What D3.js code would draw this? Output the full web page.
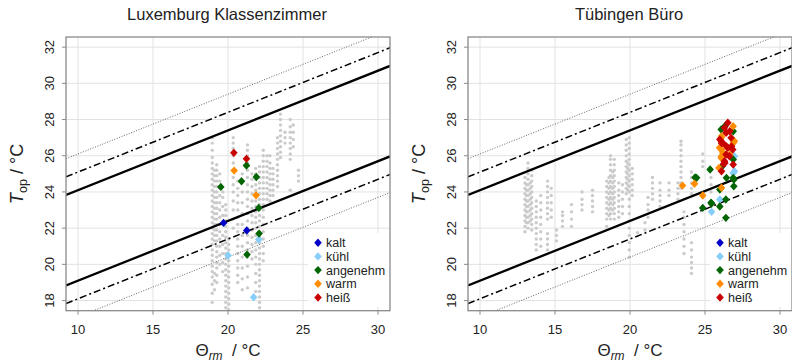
<!DOCTYPE html>
<html>
<head>
<meta charset='utf-8' />
<title>Adaptive comfort</title>
<style>
  html, body { margin: 0; padding: 0; background: #fff; }
  body { font-family: 'Liberation Sans', Arial, sans-serif; }
  svg text { fill: #222; }
</style>
</head>
<body>
<svg id='chart' width='792' height='362'></svg>
<script src='https://cdnjs.cloudflare.com/ajax/libs/d3/7.8.5/d3.min.js'></script>
<script>
// gray points, one column per running-mean temperature: [theta_rm, 'T_op values']
const luxGray = [
  [18.95, '17.9 18.4 18.9 19.3 19.6 19.9 20.2 20.5 20.8 21.1 21.4 21.7 22.0 22.3 22.6 22.9 23.2 23.5 23.8 24.1 24.4 24.7 25.0 25.3 25.6 25.9 26.3 26.7 27.0'],
  [19.1, '18.6 19.1 19.5 21.3 21.6 21.9 22.2 22.5 22.8 23.1 23.4 23.7 24.0 24.3 24.6 24.9 25.2'],
  [19.25, '19.0 19.4 19.8 20.1 20.4 20.7 21.0 21.3 21.6 21.9 22.2 22.5 22.8 23.1 23.4 23.7 24.0 24.3 24.6 24.9 25.2 25.5'],
  [19.45, '20.0 20.5 21.0 21.4 21.8 22.2 22.6 23.0 23.4 23.8 24.2 24.6 25.0'],
  [19.65, '19.6 20.1 20.6 21.1 21.6 22.7 23.2 23.7 24.0'],
  [19.85, '17.6 17.9 18.2 18.5 18.8 19.1 19.4 19.7 20.0 20.3 20.6 20.9 21.2 21.5 21.8 22.1 22.4 22.7 23.0 23.3'],
  [20.05, '17.5 17.8 18.1 18.4 18.7 19.0 19.3 19.6 19.9 20.2 20.5 20.8 21.1 21.4'],
  [20.35, '22.0 22.5 23.0 23.5 24.0 24.4 24.8 25.2 25.6 26.0 26.4 26.7 27.0'],
  [20.65, '19.0 19.4 19.8 20.2 20.6 21.0 21.4 21.8 22.2 22.6 23.0 23.4 23.8 24.2 24.6'],
  [20.95, '18.6 19.2 19.8 20.4 21.0 21.6 22.2 22.8 23.4 24.0 24.6 25.0'],
  [21.3, '18.7 19.3 19.9 20.4 20.8 21.2 21.6 22.0 22.4 22.8 23.2 23.6 24.0 24.4 24.8 25.2 25.6 26.0 26.3 26.6'],
  [21.6, '20.3 20.7 21.1 21.5 21.9 22.3 22.7 23.1 23.5 23.9 24.3 24.7 25.0'],
  [21.85, '18.5 19.0 19.5 20.0 20.4 20.8 21.2 21.6 22.0 22.3 22.6 22.9 23.2 23.5 23.8 24.1 24.4 24.7 25.0 25.3'],
  [22.1, '17.6 17.9 18.2 18.5 18.8 19.1 19.4 19.7 20.0 20.3 20.6 20.9 21.2 21.5 21.8 22.1 22.4 22.7 23.0 23.3 23.6 23.9 24.2 24.5 24.8 25.1 25.4'],
  [22.35, '20.2 20.6 21.0 21.4 21.8 22.2 22.6 23.0 23.3 23.6 23.9 24.2 24.5 24.8 25.1 25.4 25.7 26.0 26.3'],
  [22.6, '23.6 23.9 24.2 24.5 24.8 25.1 25.4 25.7 26.0'],
  [22.8, '23.5 23.8 24.1 24.4 24.7 25.0 25.3 25.6 26.0'],
  [23.0, '23.8 24.1 24.4 24.7 25.0 25.3'],
  [23.3, '24.3 24.6 24.9 25.2 25.5 25.8 26.1 26.4 26.7 27.0'],
  [23.5, '25.9 26.2 26.5 26.8 27.1 27.4 27.7 28.0 28.3'],
  [23.8, '26.7 27.0 27.3'],
  [24.15, '24.1 25.8 26.1 26.4 26.7 27.0 27.3 27.6 28.0'],
  [24.35, '26.5 26.9 27.3 27.7'],
  [24.7, '24.6 24.9 25.2']
]

const tueGray = [
  [13.0, '21.8 22.1 22.4 22.7 23.0 23.3 23.6 23.9 24.2 24.5 24.8'],
  [13.1, '22.3 22.6 22.9 23.2 23.5 23.8 24.1 24.4'],
  [13.2, '22.0 22.3 22.6 22.9 23.2 23.5 23.8 24.1 24.4 24.7 25.0 25.3 25.6'],
  [13.35, '22.4 22.7 23.0 23.3 23.6 23.9 24.2 24.5'],
  [13.45, '21.9 22.2 22.5 22.8 23.1 23.4 23.7 24.0 24.3 24.6 24.9 25.2'],
  [13.75, '20.8 21.1 21.4 21.7 22.0 22.3 22.6 22.9 23.2 23.5'],
  [14.05, '21.0 21.4 21.8 22.2 22.6 23.0 23.4 23.8'],
  [14.5, '20.8 21.1 21.4 21.7 22.5 22.8 23.1 23.4 23.7 24.0 24.3 24.6'],
  [14.75, '22.6 23.0 23.4 23.8 24.2'],
  [15.1, '21.3 21.6 21.9'],
  [15.5, '22.1 22.4 22.7 22.9'],
  [16.1, '22.1 22.5 22.9 23.3'],
  [16.8, '23.0 23.3 23.6 24.0'],
  [17.5, '22.9 23.2 23.5 23.8 24.1'],
  [18.45, '22.1 22.5 22.8 23.1 23.4 23.7 24.0 24.3 24.6'],
  [18.6, '22.7 23.0 23.3 23.6 23.9 24.2 24.5 24.8'],
  [18.7, '22.5 22.8 23.1 23.4 23.7 24.0 24.3 24.6 24.9 25.2 25.5 25.8 26.0'],
  [18.85, '23.0 23.3 23.6 23.9 24.2 24.5 24.8 25.1'],
  [18.95, '22.5 22.8 23.1 23.4 23.7 24.0 24.3 24.6 24.9 25.2 25.5 25.8'],
  [19.25, '22.6 22.9 23.2 23.5 23.8 24.1 24.5'],
  [19.5, '22.8 23.2 23.6 24.0 24.4'],
  [19.75, '23.9 24.2 24.5 24.8 25.1 25.4 25.7 26.0 26.3 26.6 26.9'],
  [19.85, '24.1 24.4 24.7 25.0 25.3 25.6'],
  [19.95, '20.4 20.8 21.2 21.6 22.0 22.4 22.8 23.2 23.6 24.0 24.3 24.6 24.9 25.2 25.5 25.8 26.1 26.4 26.7 27.0'],
  [20.15, '23.8 24.1 24.4 24.7 25.0 25.3'],
  [20.5, '21.75'],
  [21.0, '21.9 22.3'],
  [21.2, '22.6 23.0 23.3 23.7'],
  [21.5, '23.6 23.9 24.2 24.5 24.8'],
  [22.0, '23.2 23.5 23.8 24.1 24.5'],
  [22.6, '23.8 24.1 24.5'],
  [23.2, '23.6 23.9 24.2 24.5'],
  [23.4, '24.2 24.5 24.8 25.1 25.4 25.7 26.0 26.3 26.6 26.8'],
  [23.6, '20.6 21.0 21.4 21.8 22.2 22.6 22.9'],
  [24.1, '19.5 19.8 20.1 20.4 20.8 21.2 23.9 24.2 24.5 24.8 25.1'],
  [24.85, '25.4 25.7 26.1'],
  [25.4, '24.0 24.4 24.8']
]

// votes [theta_rm, T_op]
const luxVotes = {
  kalt: [[19.70, 22.29], [21.25, 21.87]],
  kuehl: [[22.05, 21.37], [20.01, 20.49], [21.71, 18.18]],
  angenehm: [[21.23, 25.46], [20.90, 24.59], [21.89, 24.83], [19.52, 24.28], [22.05, 23.12], [22.07, 21.70], [21.27, 20.54]],
  warm: [[20.41, 25.18], [21.87, 23.82]],
  heiss: [[20.39, 26.16], [21.23, 25.83]]
}

const tueVotes = {
  kalt: [],
  kuehl: [[25.44, 22.9], [25.99, 23.58], [26.96, 25.97], [26.96, 25.14], [26.88, 25.05]],
  angenehm: [[24.34, 24.8], [25.34, 25.24], [25.4, 23.4], [24.85, 23.12], [25.44, 23.36], [25.99, 23.2], [25.99, 24.13],
    [26.39, 23.58], [26.39, 22.57], [26.92, 24.31], [26.92, 24.68], [26.08, 27.45], [26.15, 25.42], [26.32, 27.63],
    [26.88, 27.35], [26.88, 25.79], [26.43, 24.78], [26.88, 24.78], [24.44, 24.78]],
  warm: [[23.5, 24.35], [24.3, 24.45], [24.85, 23.8], [26.1, 24.23], [26.08, 26.99], [26.96, 26.8], [25.97, 26.44],
    [26.19, 26.16], [26.08, 25.88], [25.93, 25.33], [26.88, 27.63], [26.1, 27.08], [26.88, 26.71], [26.1, 26.34],
    [26.65, 26.07], [26.1, 25.97]],
  heiss: [[26.52, 27.82], [26.3, 27.54], [26.41, 27.27], [26.74, 26.99], [26.19, 26.71], [26.52, 26.44], [26.85, 26.34],
    [26.41, 26.07], [26.63, 25.97], [26.3, 25.7], [26.24, 25.55], [26.65, 27.35], [26.43, 26.52], [26.77, 26.52],
    [26.32, 25.6], [26.88, 25.51], [26.1, 25.14], [25.99, 26.9], [26.1, 26.7]]
}

const categories = ['kalt', 'kuehl', 'angenehm', 'warm', 'heiss']
const catLabels = ['kalt', 'kühl', 'angenehm', 'warm', 'heiß']
const catColors = ['#0000c8', '#87cefa', '#006400', '#ff8c00', '#c80000']

const xTicks = [10, 15, 20, 25, 30]
const yTicks = [18, 20, 22, 24, 26, 28, 30, 32]

// EN 15251 limits: T = 0.33 * theta + 18.8 + offset
const limitOffsets = [
  { off: 2, style: 'solid' }, { off: -3, style: 'solid' },
  { off: 3, style: 'dotdash' }, { off: -4, style: 'dotdash' },
  { off: 4, style: 'dotted' }, { off: -5, style: 'dotted' }
]

const svg = d3.select('#chart')
const diamond = 'M0,-4.2L3.8,0L0,4.2L-3.8,0Z'

const drawPanel = (left, title, gray, votes, id) => {
  const top = 37, bottom = 310.7, width = 324
  const x = d3.scaleLinear().domain([9.2, 30.8]).range([left, left + width])
  const y = d3.scaleLinear().domain([17.44, 32.56]).range([bottom, top])
  const g = svg.append('g')

  g.append('clipPath').attr('id', 'clip-' + id)
    .append('rect').attr('x', left).attr('y', top).attr('width', width).attr('height', bottom - top)

  // grid
  g.selectAll('.gx').data(xTicks).enter().append('line')
    .attr('x1', d => x(d)).attr('x2', d => x(d)).attr('y1', top).attr('y2', bottom)
    .attr('stroke', '#e2e2e2').attr('stroke-width', 1)
  g.selectAll('.gy').data(yTicks).enter().append('line')
    .attr('y1', d => y(d)).attr('y2', d => y(d)).attr('x1', left).attr('x2', left + width)
    .attr('stroke', '#e2e2e2').attr('stroke-width', 1)

  const plot = g.append('g').attr('clip-path', 'url(#clip-' + id + ')')

  // gray measurements
  const pts = []
  gray.forEach(([t, s]) => s.split(' ').forEach(v => pts.push([t, +v])))
  plot.selectAll('.gp').data(pts).enter().append('circle')
    .attr('cx', d => x(d[0])).attr('cy', d => y(d[1])).attr('r', 1.7)
    .attr('fill', '#cbcbcb')

  // comfort limits
  const line = d3.line().x(d => x(d[0])).y(d => y(d[1]))
  limitOffsets.forEach(l => {
    const p = plot.append('path')
      .datum(x.domain().map(t => [t, 0.33 * t + 18.8 + l.off]))
      .attr('d', line).attr('fill', 'none').attr('stroke', '#000')
    if (l.style === 'solid') p.attr('stroke-width', 2.3)
    if (l.style === 'dotdash') p.attr('stroke-width', 1.5).attr('stroke-dasharray', '7,3,2,3')
    if (l.style === 'dotted') p.attr('stroke-width', 0.9).attr('stroke', '#555').attr('stroke-dasharray', '1,1.6')
  })

  // votes
  categories.forEach((c, i) => {
    plot.selectAll('.v' + c).data(votes[c]).enter().append('path')
      .attr('d', diamond)
      .attr('transform', d => 'translate(' + x(d[0]) + ',' + y(d[1]) + ')')
      .attr('fill', catColors[i])
  })

  // legend
  const lg = g.append('g')
  lg.append('rect').attr('x', left + 242).attr('y', 233).attr('width', 82).attr('height', 74).attr('fill', '#fff')
  catLabels.forEach((lab, i) => {
    const ly = 242.7 + i * 13.7
    lg.append('path').attr('d', diamond)
      .attr('transform', 'translate(' + (left + 252) + ',' + ly + ')').attr('fill', catColors[i])
    lg.append('text').attr('x', left + 260).attr('y', ly).attr('dy', '0.36em')
      .attr('font-size', 12.5).text(lab)
  })

  // box
  g.append('rect').attr('x', left).attr('y', top).attr('width', width).attr('height', bottom - top)
    .attr('fill', 'none').attr('stroke', '#8a8a8a').attr('stroke-width', 1.3)

  // axes ticks + labels
  xTicks.forEach(t => {
    g.append('line').attr('x1', x(t)).attr('x2', x(t)).attr('y1', bottom).attr('y2', bottom + 4).attr('stroke', '#8a8a8a')
    g.append('text').attr('x', x(t)).attr('y', 334).attr('text-anchor', 'middle')
      .attr('font-size', 13).text(t)
  })
  yTicks.forEach(t => {
    g.append('line').attr('x1', left - 4).attr('x2', left).attr('y1', y(t)).attr('y2', y(t)).attr('stroke', '#8a8a8a')
    g.append('text').attr('transform', 'translate(' + (left - 12) + ',' + y(t) + ') rotate(-90)')
      .attr('text-anchor', 'middle').attr('font-size', 13).text(t)
  })

  // titles
  g.append('text').attr('x', left + 161).attr('y', 20).attr('text-anchor', 'middle')
    .attr('font-size', 16.5).text(title)

  const xl = g.append('text').attr('x', left + 162).attr('y', 356).attr('text-anchor', 'middle').attr('font-size', 17)
  xl.append('tspan').text('Θ')
  xl.append('tspan').attr('font-style', 'italic').attr('font-size', 12).attr('dy', 4).text('rm')
  xl.append('tspan').attr('dy', -4).text('  / °C').attr('xml:space', 'preserve')

  const yl = g.append('text').attr('transform', 'translate(' + (left - 43) + ',' + ((top + bottom) / 2) + ') rotate(-90)')
    .attr('text-anchor', 'middle').attr('font-size', 18)
  yl.append('tspan').attr('font-style', 'italic').text('T')
  yl.append('tspan').attr('font-size', 12.5).attr('dy', 4).text('op')
  yl.append('tspan').attr('dy', -4).text(' / °C')
}

drawPanel(66, 'Luxemburg Klassenzimmer', luxGray, luxVotes, 'lux')
drawPanel(468, 'Tübingen Büro', tueGray, tueVotes, 'tue')
</script>
</body>
</html>
